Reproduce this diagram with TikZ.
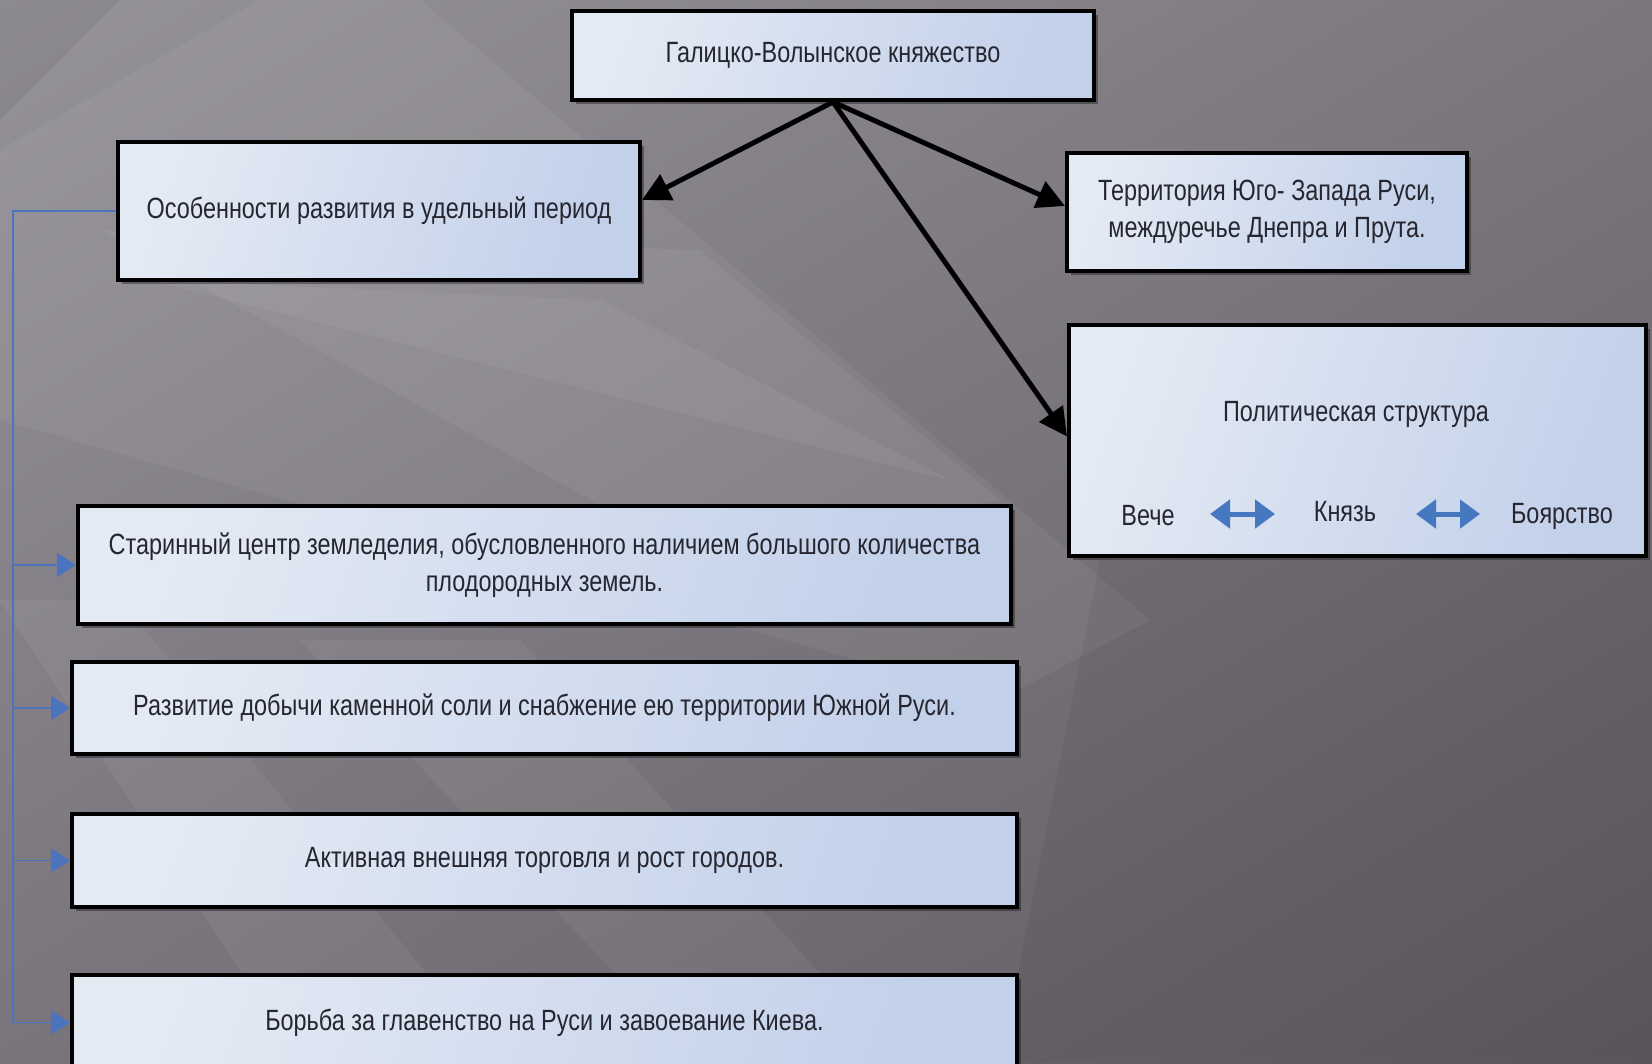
\documentclass[tikz,border=0pt]{standalone}
\usepackage{fontspec}
\setmainfont{Liberation Sans}[FakeStretch=0.8]
\usetikzlibrary{arrows.meta,shadows,shadings,calc}
\definecolor{bgUL}{RGB}{150,146,153}
\definecolor{bgUR}{RGB}{124,119,126}
\definecolor{bgLL}{RGB}{122,117,124}
\definecolor{bgLR}{RGB}{94,89,96}
\definecolor{boxL}{RGB}{228,234,244}
\definecolor{boxR}{RGB}{194,208,233}
\definecolor{txt}{RGB}{38,38,48}
\definecolor{conn}{RGB}{75,115,190}
\definecolor{dbl}{RGB}{70,120,192}
\tikzset{
  box/.style={draw=black, line width=4pt, left color=boxL, right color=boxR,
    shading angle=70, text=txt, align=center, inner sep=0pt,
    font=\fontsize{29.3}{37}\selectfont,
    drop shadow={shadow xshift=4pt, shadow yshift=-4pt, opacity=0.35, fill=black}},
  lbl/.style={text=txt, inner sep=0pt, font=\fontsize{29.3}{37}\selectfont},
  blk/.style={draw=black, line width=5pt, -{Triangle[length=28pt,width=28pt]}},
  cline/.style={draw=conn, line width=1.5pt},
  carrow/.style={draw=conn, line width=1.5pt, -{Triangle[length=19pt,width=24pt]}},
  dblarr/.style={draw=dbl, line width=5pt,
    {Triangle[length=20pt,width=28pt]}-{Triangle[length=20pt,width=28pt]}},
  streak/.style={fill=white, opacity=0.05}
}
\begin{document}
\begin{tikzpicture}[x=1pt,y=-1pt]
\useasboundingbox (0,0) rectangle (1652,1063);
\clip (0,0) rectangle (1652,1063);
% background
\shade[upper left=bgUL, upper right=bgUR, lower left=bgLL, lower right=bgLR]
  (0,0) rectangle (1652,1063);
\fill[streak] (0,150) -- (260,0) -- (420,0) -- (1150,620) -- (1000,700) -- (0,420) -- cycle;
\fill[streak] (100,230) -- (700,250) -- (1000,500) -- (700,560) -- cycle;
\fill[streak] (150,280) -- (600,300) -- (950,480) -- cycle;
\fill[streak] (300,640) -- (520,640) -- (900,1063) -- (700,1063) -- cycle;
\fill[streak] (0,600) -- (120,600) -- (500,1063) -- (300,1063) -- cycle;
\fill[black, opacity=0.05] (1100,560) -- (1652,560) -- (1652,1063) -- (1000,1063) -- cycle;
\fill[black, opacity=0.06] (0,0) -- (120,0) -- (0,120) -- cycle;

% boxes
\node[box, minimum width=522pt, minimum height=89pt] (top) at (833,55.5) {Галицко-Волынское княжество};
\node[box, minimum width=522pt, minimum height=138pt] (osob) at (379,211) {Особенности развития в удельный период};
\node[box, minimum width=400pt, minimum height=118pt] (terr) at (1267,212) {Территория Юго- Запада Руси,\\ междуречье Днепра и Прута.};
\node[box, minimum width=577pt, minimum height=231pt] (pol) at (1357.5,440.5) {};
\node[box, minimum width=933pt, minimum height=118pt] (b1) at (544.5,565) {Старинный центр земледелия, обусловленного наличием большого количества\\ плодородных земель.};
\node[box, minimum width=945pt, minimum height=92pt] (b2) at (544.5,708) {Развитие добычи каменной соли и снабжение ею территории Южной Руси.};
\node[box, minimum width=945pt, minimum height=93pt] (b3) at (544.5,860.5) {Активная внешняя торговля и рост городов.};
\node[box, minimum width=945pt, minimum height=95pt] (b4) at (544.5,1022.5) {Борьба за главенство на Руси и завоевание Киева.};

% political structure contents
\node[lbl] (pt) at (1356,414) {Политическая структура};
\node[lbl] (veche) at (1148,516) {Вече};
\node[lbl] (knyaz) at (1345,512) {Князь};
\node[lbl] (boyar) at (1562,516) {Боярство};
\coordinate (a1s) at (1210,514);
\coordinate (a1e) at (1275,514);
\coordinate (a2s) at (1416,514);
\coordinate (a2e) at (1480,514);
\draw[dblarr] (a1s) -- (a1e);
\draw[dblarr] (a2s) -- (a2e);

% black arrows
\draw[blk] (top.south) -- ([yshift=11pt]osob.east);
\draw[blk] (top.south) -- ([yshift=6pt]terr.west);
\draw[blk] (top.south) -- ([yshift=4pt]pol.west);

% blue connectors
\coordinate (tr) at (13,211);
\draw[cline] (osob.west) -- (tr) -- (tr |- b4.west);
\draw[carrow] (tr |- b1.west) -- (b1.west);
\draw[carrow] (tr |- b2.west) -- (b2.west);
\draw[carrow] (tr |- b3.west) -- (b3.west);
\draw[carrow] (tr |- b4.west) -- (b4.west);
\end{tikzpicture}
\end{document}
